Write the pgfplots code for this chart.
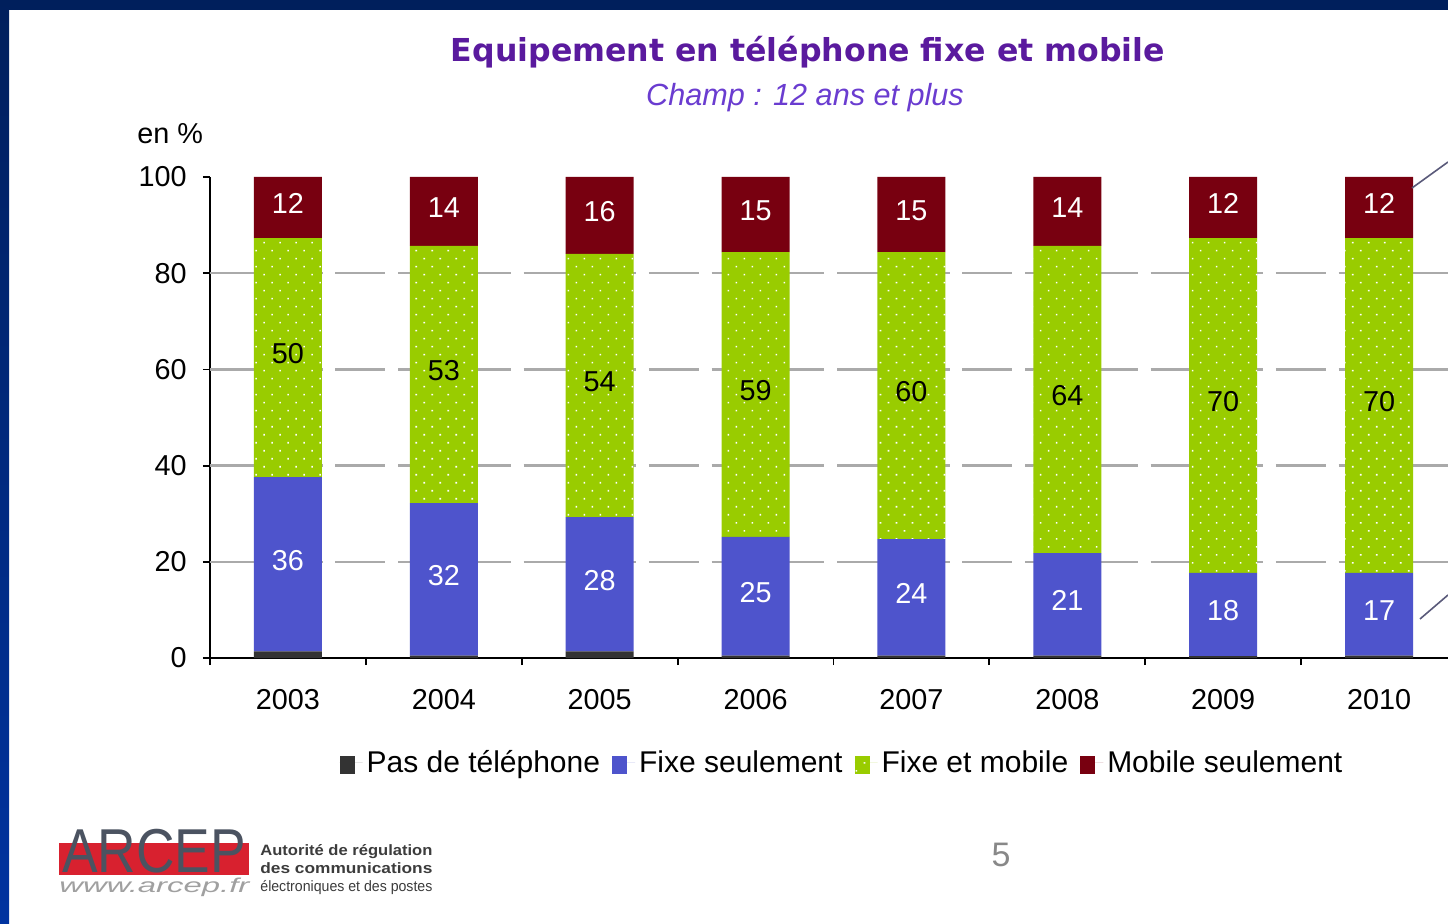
\documentclass[border=0pt]{standalone}
\usepackage{pgfplots}
\pgfplotsset{compat=1.18}
\usepackage{pgfplotstable}
\usepackage{graphicx}
\usepackage{fontspec}
\setmainfont{Liberation Sans}
\newfontfamily\titlefont{DejaVu Sans}
\usetikzlibrary{patterns.meta}
\definecolor{frameblue}{HTML}{001F5C}
\definecolor{frameblue2}{HTML}{0033A0}
\definecolor{cpas}{HTML}{333333}
\definecolor{cfixe}{HTML}{4E54CC}
\definecolor{cfm}{HTML}{99CC00}
\definecolor{cmob}{HTML}{780010}
\definecolor{ctitle}{HTML}{5A1A9E}
\definecolor{csub}{HTML}{6A3CD0}
\definecolor{cgrid}{HTML}{AAAAAA}
\definecolor{logored}{HTML}{D8212F}
\definecolor{logogray}{HTML}{4B5361}

\pgfplotstableread{
x year pas fixe fm mob lf lg lm
0 2003 1.4 36.2 49.7 12.7 36 50 12
1 2004 0.5 31.7 53.5 14.3 32 53 14
2 2005 1.4 27.9 54.7 16.0 28 54 16
3 2006 0.5 24.7 59.2 15.6 25 59 15
4 2007 0.5 24.2 59.7 15.6 24 60 15
5 2008 0.5 21.3 63.9 14.3 21 64 14
6 2009 0.4 17.3 69.6 12.7 18 70 12
7 2010 0.5 17.2 69.6 12.7 17 70 12
}\data

\begin{document}
\begin{tikzpicture}[x=0.5pt,y=0.5pt]
\path[use as bounding box] (0,0) rectangle (1448,923);
\fill[white] (0,0) rectangle (1448,923);
\begin{scope}
\clip (0,0) rectangle (1448,923);
\begin{axis}[
  at={(105pt,132.5pt)}, anchor=south west,
  scale only axis, width=623.5pt, height=240.5pt,
  ybar stacked, bar width=34pt,
  xmin=-0.5, xmax=7.5, ymin=0, ymax=100,
  axis x line=bottom, axis y line=left,
  axis line style={-, black, line width=0.9pt},
  tick align=outside,
  ytick={0,20,...,100},
  major tick length=3.5pt,
  ytick style={black, line width=0.9pt},
  xtick={-0.5,0.5,...,6.5}, xticklabels={},
  xtick style={black, line width=0.9pt},
  extra x ticks={0,1,...,7},
  extra x tick labels={2003,2004,2005,2006,2007,2008,2009,2010},
  extra x tick style={major tick length=0pt},
  extra y ticks={20,40,60,80}, extra y tick labels={},
  extra y tick style={grid=major, major tick length=0pt},
  major grid style={cgrid, line width=1.2pt, dash pattern=on 25pt off 6.35pt},
  /pgf/number format/assume math mode=true,
  tick label style={font=\fontsize{14.4}{17}\selectfont, black},
  yticklabel style={inner sep=0pt, xshift=-8pt},
  xticklabel style={inner sep=0pt, anchor=north, yshift=-15.5pt},
  legend style={at={(0.5076,-0.218)}, anchor=center, draw=none, fill=none,
    legend columns=4, font=\fontsize{15}{18}\selectfont,
    /tikz/every even column/.append style={column sep=4pt},
    legend cell align=left},
  legend image code/.code={\fill[#1] (0pt,-5.5pt) rectangle (7.5pt,3.5pt); \path (0pt,0pt) -- (11.5pt,0pt);},
  nodes near coords style={font=\fontsize{14.4}{17}\selectfont},
  point meta=explicit symbolic,
]
\addplot[fill=cpas, draw=none] table[x=x, y=pas]{\data};
\addplot[fill=cfixe, draw=none, nodes near coords,
  every node near coord/.append style={text=white, yshift=2pt}]
  table[x=x, y=fixe, meta=lf]{\data};
\addplot[fill=cfm, draw=none, postaction={pattern={Dots[distance=5.66pt, radius=0.55pt, angle=45]}, pattern color=white},
  nodes near coords, every node near coord/.append style={text=black, yshift=2pt}]
  table[x=x, y=fm, meta=lg]{\data};
\addplot[fill=cmob, draw=none, nodes near coords,
  every node near coord/.append style={text=white, yshift=2pt}]
  table[x=x, y=mob, meta=lm]{\data};
\legend{Pas de téléphone, Fixe seulement, Fixe et mobile, Mobile seulement}
\end{axis}
% decorative callout lines
\draw[color={rgb,255:red,90;green,90;blue,122}, line width=0.8pt] (1412,735) -- (1448,761);
\draw[color={rgb,255:red,90;green,90;blue,122}, line width=0.8pt] (1420,304) -- (1448,328);
\end{scope}
% titles
\node[anchor=base, text=ctitle, font=\titlefont\bfseries\fontsize{15.8}{18}\selectfont, inner sep=0pt] at (808,861) {Equipement en téléphone fixe et mobile};
\node[anchor=base, text=csub, font=\itshape\fontsize{15.3}{18}\selectfont, inner sep=0pt] at (805,817) {Champ : 12 ans et plus};
\node[anchor=base west, font=\fontsize{14.4}{17}\selectfont, inner sep=0pt] at (137,779) {en \%};
% page number
\node[anchor=base, text={rgb,255:red,136;green,136;blue,136}, font=\fontsize{17}{20}\selectfont, inner sep=0pt] at (1001,57) {5};
% logo
\fill[logored] (59,48) rectangle (249,80);
\node[anchor=base west, text=logogray, font=\fontsize{31}{34}\selectfont, inner sep=0pt] at (62,51) {\scalebox{0.86}[1]{ARCEP}};
\node[anchor=base west, text={rgb,255:red,160;green,160;blue,160}, font=\itshape\fontsize{10}{12}\selectfont, inner sep=0pt] at (59,31) {\resizebox{95pt}{\height}{www.arcep.fr}};
\node[anchor=base west, text={rgb,255:red,60;green,60;blue,60}, font=\bfseries\fontsize{7.5}{9}\selectfont, inner sep=0pt] at (260,68) {\resizebox{86pt}{\height}{Autorité de régulation}};
\node[anchor=base west, text={rgb,255:red,60;green,60;blue,60}, font=\bfseries\fontsize{7.5}{9}\selectfont, inner sep=0pt] at (260,50) {\resizebox{86pt}{\height}{des communications}};
\node[anchor=base west, text={rgb,255:red,60;green,60;blue,60}, font=\fontsize{7.5}{9}\selectfont, inner sep=0pt] at (260,32) {\resizebox{86pt}{\height}{électroniques et des postes}};
% frame
\fill[frameblue] (0,913) rectangle (1448,923);
\shade[top color=frameblue, bottom color=frameblue2] (0,0) rectangle (9,923);
\end{tikzpicture}
\end{document}
